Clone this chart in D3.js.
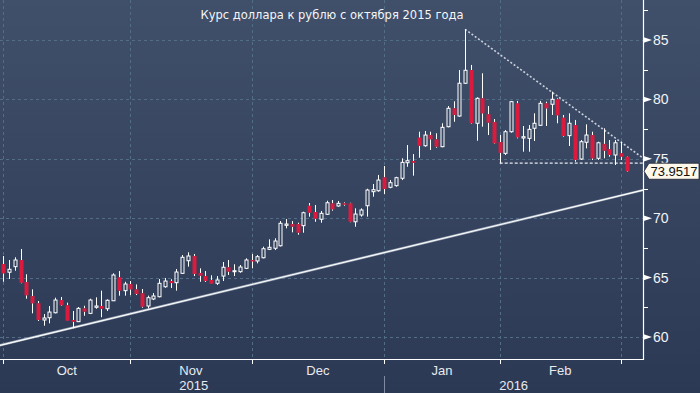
<!DOCTYPE html>
<html>
<head>
<meta charset="utf-8">
<script src="https://cdn.jsdelivr.net/npm/d3@7"></script>
<style>
  html, body { margin: 0; padding: 0; background: #2d3a56; }
  svg { display: block; }
</style>
</head>
<body>
<svg id="chart"></svg>
<script>
// USD/RUB daily candles, 1 Oct 2015 .. 2 Mar 2016 (trading days)
const openV = [66.14,65.45,65.92,66.48,64.63,63.45,62.84,61.43,61.62,62.04,63.11,62.67,61.43,61.29,62.41,61.99,62.50,62.61,62.38,63.05,65.02,63.90,
  64.46,64.01,63.68,62.61,63.20,63.39,64.23,64.71,64.57,65.36,66.42,66.82,65.39,65.13,64.80,64.52,65.13,65.87,65.50,65.50,65.78,
  66.48,66.40,66.67,67.38,67.47,67.68,69.40,69.51,69.51,69.37,71.05,70.52,69.91,70.33,71.25,71.03,71.25,71.25,69.70,70.27,71.05,72.23,72.31,
  73.44,72.60,72.74,73.36,74.67,74.81,76.78,76.10,77.00,76.64,76.02,77.70,79.25,78.60,81.36,82.47,77.99,80.09,78.75,78.10,
  76.41,75.46,77.28,79.67,76.75,76.72,77.57,77.82,79.67,79.59,80.01,78.46,76.95,77.84,74.98,76.39,77.00,75.04,76.25,75.80,75.32,
  75.46,75.18];
const highV = [66.82,66.48,66.71,67.41,65.28,64.01,63.03,61.93,62.61,63.31,63.37,62.89,62.19,62.52,62.63,63.22,63.34,63.90,63.17,65.36,65.55,64.65,
  64.71,64.43,64.04,63.48,63.70,64.88,64.97,64.86,65.72,66.90,67.13,66.99,65.78,65.55,65.19,65.13,66.31,66.48,66.12,66.06,66.62,
  66.99,66.90,67.60,68.22,68.31,69.76,69.93,69.76,69.62,70.55,71.28,71.11,70.61,71.47,71.53,71.45,71.33,71.30,70.83,70.83,72.48,72.88,73.64,
  74.39,73.21,73.49,75.04,76.16,75.40,77.28,77.34,77.28,77.15,77.99,79.44,79.84,82.47,85.90,82.90,80.18,82.20,79.44,78.35,
  77.00,77.42,79.87,79.87,77.76,77.84,78.83,79.87,79.81,80.65,80.09,78.69,78.83,78.27,76.58,77.90,77.28,76.44,77.57,76.58,76.58,
  76.44,75.22];
const lowV = [64.65,64.88,65.58,64.52,63.22,61.99,61.35,60.95,61.15,61.99,62.61,61.35,60.73,61.26,61.79,61.93,62.38,61.66,62.19,63.03,63.48,63.48,
  63.53,63.53,62.46,62.41,63.11,63.34,64.15,64.12,63.90,65.30,65.92,65.13,64.65,64.63,64.46,64.38,64.71,65.22,65.13,65.41,65.72,
  65.78,66.20,66.62,67.32,67.32,67.62,69.15,68.81,68.61,68.78,70.13,69.70,69.62,70.27,70.63,70.97,71.05,69.66,69.28,70.13,70.13,71.81,72.23,
  72.04,72.52,72.65,73.21,74.33,73.58,75.09,76.02,75.74,75.93,75.97,77.65,78.12,78.54,81.30,77.93,76.52,77.70,77.00,76.25,
  74.62,75.32,77.20,76.72,75.60,75.60,76.50,77.76,77.76,78.69,77.99,76.86,76.08,74.76,74.90,75.88,74.90,74.90,75.04,75.18,74.48,
  74.90,73.90];
const closeV = [65.36,65.70,66.48,64.57,63.51,62.84,61.43,61.60,62.10,63.11,62.67,61.37,61.29,62.41,62.13,63.11,62.61,62.38,63.09,65.22,63.90,64.46,
  64.01,63.62,62.55,63.31,63.45,64.52,64.71,64.54,65.47,66.71,66.82,65.30,65.16,64.71,64.49,64.80,65.87,65.50,65.58,65.89,66.48,
  66.40,66.76,67.43,67.55,68.08,69.57,69.51,69.28,68.78,70.46,70.46,69.96,70.41,71.30,70.75,71.25,71.17,69.70,70.35,70.69,72.37,72.40,73.21,
  72.46,72.99,73.41,74.70,74.84,74.67,76.10,77.00,76.64,76.02,77.65,79.25,78.69,81.36,82.45,77.99,80.09,78.83,78.04,76.30,
  75.51,77.28,79.81,76.81,76.86,77.48,77.99,79.67,79.25,80.01,78.66,76.92,77.99,74.90,76.44,77.00,75.04,76.35,75.68,75.32,76.35,
  75.18,73.9517];

// first trading day (candle index) of each month, and labels
const monthStart = [0, 22, 43, 66, 86, 107];
const monthLabels = ["Oct", "Nov", "Dec", "Jan", "Feb"];
const yearLabels = ["2015", "2016"];
const yearStart = [0, 66];
const yTicks = [60, 65, 70, 75, 80, 85];
const yMinor = [62.5, 67.5, 72.5, 77.5, 82.5, 87.5];

// trend lines, [candle index, price]
const supportLine = [[-1, 59.25], [112, 72.5]];
const resistLine = [[80, 85.90], [111, 75.0]];
const floorLine = [[86, 74.64], [111, 74.64]];
const lastPrice = "73.9517";
const title = "Курс доллара к рублю с октября 2015 года";

const width = 700, height = 393;
const plotR = 643, plotB = 359;

const svg = d3.select("#chart").attr("width", width).attr("height", height);

const x = d3.scaleLinear().domain([0, openV.length - 1]).range([3.3, 626.7]);
const y = d3.scaleLinear().domain([60, 85]).range([337, 40]);

// background
const grad = svg.append("defs").append("linearGradient")
    .attr("id", "bg").attr("x1", 0).attr("y1", 0).attr("x2", 0).attr("y2", 1);
grad.append("stop").attr("offset", "0%").attr("stop-color", "#404f6a");
grad.append("stop").attr("offset", "100%").attr("stop-color", "#2c3955");
svg.append("rect").attr("width", width).attr("height", height).attr("fill", "url(#bg)");

svg.select("defs").append("clipPath").attr("id", "plot")
  .append("rect").attr("width", plotR).attr("height", plotB);

// grid
const grid = svg.append("g").attr("stroke", "#526d86").attr("stroke-dasharray", "3,3").attr("stroke-width", 1);
grid.selectAll("line.h").data(yTicks).enter().append("line")
    .attr("x1", 0).attr("x2", plotR)
    .attr("y1", d => Math.round(y(d)) + 0.5).attr("y2", d => Math.round(y(d)) + 0.5);
grid.selectAll("line.v").data(monthStart).enter().append("line")
    .attr("x1", d => Math.round(x(d)) + 0.5).attr("x2", d => Math.round(x(d)) + 0.5)
    .attr("y1", 0).attr("y2", plotB);

// title
svg.append("text")
    .attr("x", 332).attr("y", 19)
    .attr("text-anchor", "middle")
    .attr("fill", "#f4f6f8")
    .style("font-family", "'DejaVu Sans', sans-serif")
    .style("font-size", "11.5px")
    .text(title);

const plot = svg.append("g").attr("clip-path", "url(#plot)");

// trend lines
const line = d3.line().x(d => x(d[0])).y(d => y(d[1]));
plot.append("path").datum(supportLine).attr("d", line)
    .attr("stroke", "#9aa6b6").attr("stroke-width", 2.4).attr("fill", "none");
plot.append("path").datum(supportLine).attr("d", line)
    .attr("stroke", "#ffffff").attr("stroke-width", 1.1).attr("fill", "none");
plot.append("path").datum(resistLine).attr("d", line)
    .attr("stroke", "#c9d0da").attr("stroke-width", 1.6).attr("stroke-dasharray", "2,2").attr("fill", "none");
plot.append("path").datum(floorLine).attr("d", line)
    .attr("stroke", "#e6e9ee").attr("stroke-width", 1.4).attr("stroke-dasharray", "3,2").attr("fill", "none");

// candles
const candles = d3.range(openV.length).map(i => ({
  i: i, o: openV[i], h: highV[i], l: lowV[i], c: closeV[i], up: closeV[i] >= openV[i]
}));

const g = plot.selectAll("g.candle").data(candles).enter().append("g").attr("class", "candle");
g.append("line")
    .attr("x1", d => Math.round(x(d.i)) + 0.5).attr("x2", d => Math.round(x(d.i)) + 0.5)
    .attr("y1", d => y(d.h)).attr("y2", d => y(Math.max(d.o, d.c)))
    .attr("stroke", "#ffffff").attr("stroke-width", 1);
g.append("line")
    .attr("x1", d => Math.round(x(d.i)) + 0.5).attr("x2", d => Math.round(x(d.i)) + 0.5)
    .attr("y1", d => y(Math.min(d.o, d.c))).attr("y2", d => y(d.l))
    .attr("stroke", "#ffffff").attr("stroke-width", 1);
g.filter(d => d.up).append("rect")
    .attr("x", d => Math.round(x(d.i)) - 1)
    .attr("width", 3)
    .attr("y", d => y(d.c))
    .attr("height", d => Math.max(1, y(d.o) - y(d.c)))
    .attr("fill", "none").attr("stroke", "#ffffff").attr("stroke-width", 1);
g.filter(d => !d.up).append("rect")
    .attr("x", d => Math.round(x(d.i)) - 1.5)
    .attr("width", 4)
    .attr("y", d => y(d.o))
    .attr("height", d => Math.max(1.5, y(d.c) - y(d.o)))
    .attr("fill", "#dc1a3d");

// axes
const axisFont = "'Liberation Sans Narrow', 'Liberation Sans', sans-serif";
svg.append("line").attr("x1", plotR + 0.5).attr("x2", plotR + 0.5).attr("y1", 0).attr("y2", plotB + 1)
    .attr("stroke", "#ffffff").attr("stroke-width", 1.2);
svg.append("line").attr("x1", 0).attr("x2", plotR + 1).attr("y1", plotB + 0.5).attr("y2", plotB + 0.5)
    .attr("stroke", "#ffffff").attr("stroke-width", 1.2);

svg.selectAll("path.ytri").data(yTicks).enter().append("path")
    .attr("d", d => { const yy = y(d); return `M${plotR},${yy - 3}L${plotR + 9},${yy}L${plotR},${yy + 3}Z`; })
    .attr("fill", "#ffffff");
svg.selectAll("line.ymin").data(yMinor).enter().append("line")
    .attr("x1", plotR).attr("x2", plotR + 5)
    .attr("y1", d => Math.round(y(d)) + 0.5).attr("y2", d => Math.round(y(d)) + 0.5)
    .attr("stroke", "#ffffff");
svg.selectAll("text.ylab").data(yTicks).enter().append("text")
    .attr("x", plotR + 10).attr("y", d => y(d) + 5)
    .attr("fill", "#f2f4f7")
    .style("font-family", axisFont).style("font-size", "14px")
    .text(d => d);

// bottom ticks and labels
svg.selectAll("line.xt").data(monthStart).enter().append("line")
    .attr("x1", d => Math.round(x(d)) + 0.5).attr("x2", d => Math.round(x(d)) + 0.5)
    .attr("y1", plotB).attr("y2", plotB + 5)
    .attr("stroke", "#ffffff");
svg.selectAll("text.xlab").data(monthLabels).enter().append("text")
    .attr("x", (d, i) => (x(monthStart[i]) + x(monthStart[i + 1])) / 2)
    .attr("y", 375)
    .attr("text-anchor", "middle")
    .attr("fill", "#e8ebef")
    .style("font-family", axisFont).style("font-size", "13px")
    .text(d => d);
const yearEnd = [x(yearStart[1]), plotR];
svg.selectAll("text.year").data(yearLabels).enter().append("text")
    .attr("x", (d, i) => (x(yearStart[i]) + yearEnd[i]) / 2)
    .attr("y", 390)
    .attr("text-anchor", "middle")
    .attr("fill", "#e8ebef")
    .style("font-family", axisFont).style("font-size", "13px")
    .text(d => d);
svg.append("line")
    .attr("x1", Math.round(x(yearStart[1])) + 0.5).attr("x2", Math.round(x(yearStart[1])) + 0.5)
    .attr("y1", 376).attr("y2", height)
    .attr("stroke", "#7d8aa0");

// last price tag
const ly = y(+lastPrice);
svg.append("path")
    .attr("d", `M${plotR + 1},${ly}L${plotR + 6},${ly - 8}L${width - 1},${ly - 8}L${width - 1},${ly + 8}L${plotR + 6},${ly + 8}Z`)
    .attr("fill", "#fdf8ea").attr("stroke", "#1d2535").attr("stroke-width", 0.8);
svg.append("text")
    .attr("x", 674).attr("y", ly + 4.8)
    .attr("text-anchor", "middle")
    .attr("fill", "#111111")
    .style("font-family", axisFont).style("font-size", "13px")
    .text(lastPrice);
</script>
</body>
</html>
